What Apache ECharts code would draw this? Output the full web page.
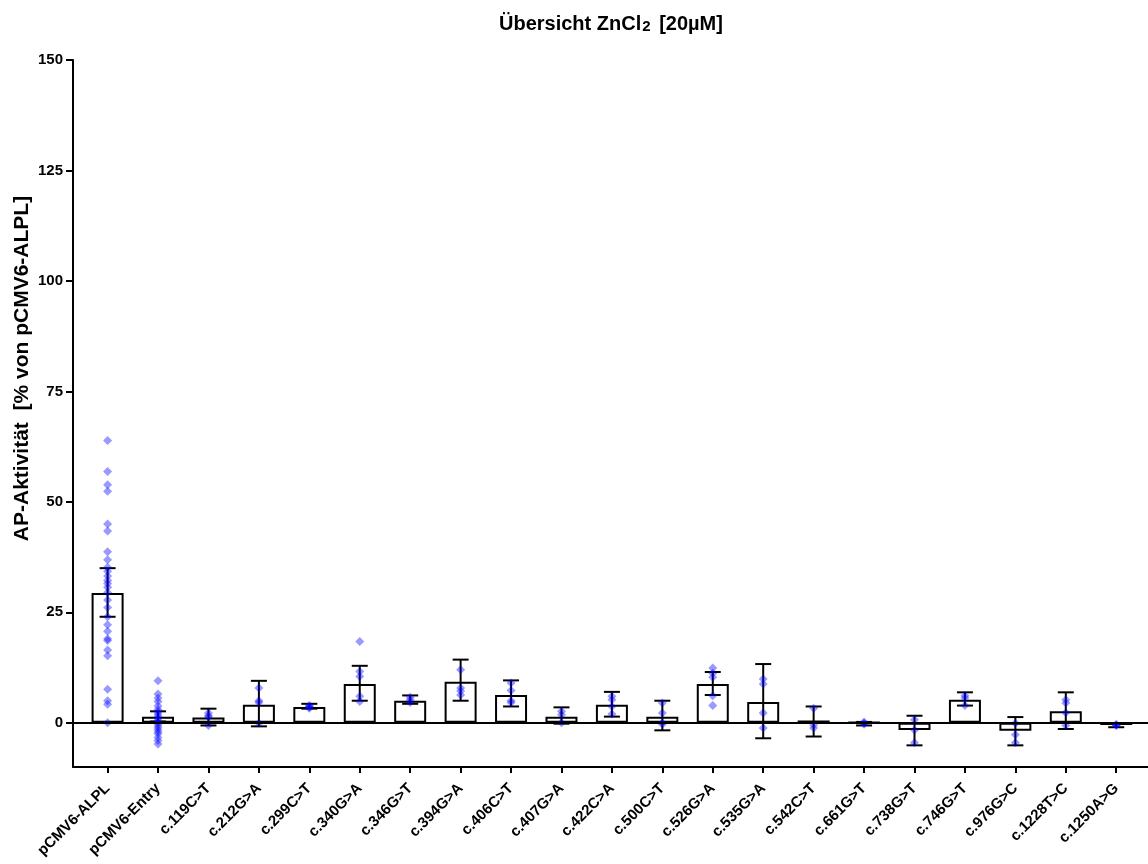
<!DOCTYPE html>
<html>
<head>
<meta charset="utf-8">
<title>Übersicht ZnCl2 [20µM]</title>
<script src="https://cdn.jsdelivr.net/npm/echarts@6/dist/echarts.min.js"></script>
<style>
  html, body { margin: 0; padding: 0; background: #fff; }
  #chart { width: 1148px; height: 864px; }
</style>
</head>
<body>
<div id="chart"></div>
<script>
// ==================== Daten ====================

const categories = [
    'pCMV6-ALPL', 'pCMV6-Entry', 'c.119C>T', 'c.212G>A', 'c.299C>T', 'c.340G>A',
    'c.346G>T', 'c.394G>A', 'c.406C>T', 'c.407G>A', 'c.422C>A', 'c.500C>T',
    'c.526G>A', 'c.535G>A', 'c.542C>T', 'c.661G>T', 'c.738G>T', 'c.746G>T',
    'c.976G>C', 'c.1228T>C', 'c.1250A>G'
];

// Mittelwerte (Balkenhöhe)
const means = [29.4, 1.4, 1.2, 4.1, 3.6, 8.8, 5.0, 9.3, 6.3, 1.4, 4.1, 1.4,
               8.8, 4.7, 0.5, 0.1, -1.6, 5.2, -1.8, 2.6, -0.5];

// Fehlerbalken unten / oben
const errLow  = [24.0, 0.3, -0.6, -0.8, 3.2, 5.0, 4.3, 5.0, 3.7, -0.2, 1.4, -1.7,
                 6.3, -3.5, -3.1, -0.6, -5.1, 3.9, -5.1, -1.4, -1.0];
const errHigh = [35.0, 2.6, 3.2, 9.5, 4.3, 12.9, 6.2, 14.3, 9.6, 3.5, 7.0, 5.0,
                 11.5, 13.3, 3.7, 0.2, 1.6, 6.9, 1.3, 6.9, -0.1];

// Einzelmessungen je Konstrukt
const replicates = [
    [63.9, 56.9, 53.9, 52.4, 45.0, 43.4, 38.7, 36.9, 35.2, 34.3, 33.2, 32.2, 31.5, 30.7,
     29.5, 27.8, 26.1, 24.0, 22.2, 20.7, 19.0, 18.6, 16.5, 15.2, 7.6, 5.0, 4.2, 0.0],
    [9.5, 6.5, 5.6, 4.8, 3.8, 3.0, 2.5, 2.0, 1.5, 1.0, 0.5, 0.0, -0.5, -1.0, -1.5,
     -2.0, -2.5, -3.3, -4.0, -4.8],
    [2.2, 1.6, 1.3, -0.6],
    [7.9, 5.0, 4.6, -0.1],
    [3.9, 3.6, 3.3, 3.7],
    [18.4, 11.6, 10.5, 6.0, 4.8],
    [5.8, 5.2, 4.6],
    [12.0, 7.9, 7.2, 6.3],
    [9.0, 7.3, 5.0, 4.6],
    [2.6, 1.8, 0.0],
    [6.0, 5.2, 3.7, 2.0],
    [4.5, 2.2, 0.0, -0.3],
    [12.4, 11.2, 10.3, 6.1, 3.9],
    [9.9, 8.8, 2.2, -1.2],
    [3.3, -0.5, -1.2],
    [0.2, -0.1, -0.3],
    [0.7, -1.6, -4.5],
    [6.1, 5.6, 3.9],
    [-0.1, -2.7, -4.5],
    [5.2, 4.5, 2.3, -0.6],
    [-0.4, -0.6, -0.5]
];

const yTicks = [0, 25, 50, 75, 100, 125, 150];

// ==================== Aufbereitung ====================

const FONT = "'Liberation Sans', Arial, sans-serif";
const catIndex = categories.map((c, i) => i);

const barData = means.map((v, i) => [i, v]);
const errData = means.map((v, i) => [i, errLow[i], errHigh[i]]);
const dotData = [];
replicates.forEach((vals, i) => {
    vals.forEach(v => dotData.push([i, v]));
});

function renderErrorBar(params, api) {
    const x = api.value(0);
    const lo = api.coord([x, api.value(1)]);
    const hi = api.coord([x, api.value(2)]);
    const half = 8;
    const style = { stroke: '#000', lineWidth: 2 };
    return {
        type: 'group',
        children: [
            { type: 'line', shape: { x1: lo[0], y1: lo[1], x2: hi[0], y2: hi[1] }, style },
            { type: 'line', shape: { x1: hi[0] - half, y1: hi[1], x2: hi[0] + half, y2: hi[1] }, style },
            { type: 'line', shape: { x1: lo[0] - half, y1: lo[1], x2: lo[0] + half, y2: lo[1] }, style }
        ]
    };
}

// ==================== Diagramm ====================

const chart = echarts.init(document.getElementById('chart'));

chart.setOption({
    animation: false,
    backgroundColor: '#fff',
    title: {
        text: '{t|Übersicht ZnCl}{s|2}{t| [20µM]}',
        left: 494,
        top: 5,
        textStyle: {
            rich: {
                t: { fontFamily: FONT, fontWeight: 'bold', fontSize: 20, color: '#000', lineHeight: 24, verticalAlign: 'bottom' },
                s: { fontFamily: FONT, fontWeight: 'bold', fontSize: 15, color: '#000', padding: [9, 3, 0, 1], verticalAlign: 'bottom' }
            }
        }
    },
    grid: { left: 73, right: 0, top: 60, bottom: 97, containLabel: false, outerBoundsMode: 'none' },
    xAxis: {
        type: 'value',
        min: -0.686,
        max: 20.63,
        splitLine: { show: false },
        axisLine: { show: true, onZero: false, lineStyle: { color: '#000', width: 2 } },
        axisTick: { show: true, customValues: catIndex, length: 6, lineStyle: { color: '#000', width: 2 } },
        axisLabel: {
            customValues: catIndex,
            formatter: v => categories[v] || '',
            rotate: 45,
            margin: 19,
            color: '#000',
            fontFamily: FONT,
            fontWeight: 'bold',
            fontSize: 15
        }
    },
    yAxis: {
        type: 'value',
        min: -10,
        max: 150,
        name: 'AP-Aktivität  [% von pCMV6-ALPL]',
        nameLocation: 'middle',
        nameGap: 40,
        nameMoveOverlap: false,
        nameTextStyle: {
            color: '#000',
            fontFamily: FONT,
            fontWeight: 'bold',
            fontSize: 21,
            padding: [0, 0, 0, 90]
        },
        splitLine: { show: false },
        axisLine: { show: true, onZero: false, lineStyle: { color: '#000', width: 2 } },
        axisTick: { show: true, customValues: yTicks, length: 7, lineStyle: { color: '#000', width: 2 } },
        axisLabel: {
            customValues: yTicks,
            margin: 10,
            color: '#000',
            fontFamily: FONT,
            fontWeight: 'bold',
            fontSize: 15
        }
    },
    series: [
        {
            type: 'bar',
            data: barData,
            barWidth: 32,
            z: 2,
            itemStyle: { color: '#fff', borderColor: '#000', borderWidth: 2 },
            markLine: {
                silent: true,
                symbol: 'none',
                label: { show: false },
                lineStyle: { color: '#000', width: 2, type: 'solid' },
                data: [{ yAxis: 0 }]
            }
        },
        {
            type: 'custom',
            data: errData,
            encode: { x: 0, y: [1, 2] },
            renderItem: renderErrorBar,
            z: 3
        },
        {
            type: 'scatter',
            data: dotData,
            symbol: 'diamond',
            symbolSize: 9,
            z: 4,
            itemStyle: { color: 'rgba(0, 0, 255, 0.5)' }
        }
    ]
});
</script>
</body>
</html>
